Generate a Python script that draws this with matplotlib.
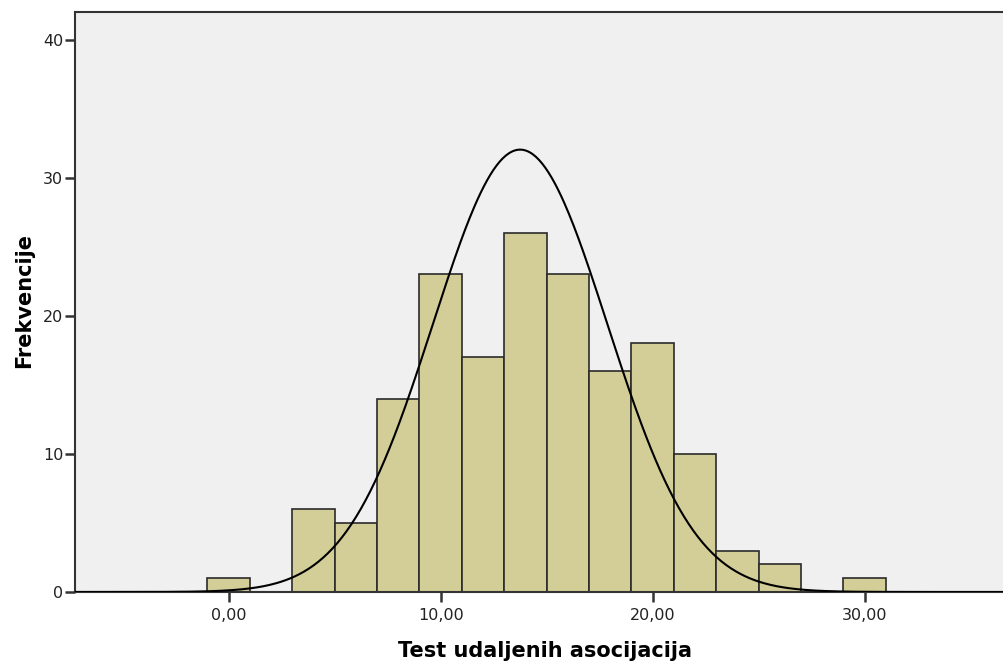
import matplotlib.pyplot as plt
import numpy as np

# bin centres (width 2) and counts
bin_centres = [0, 4, 6, 8, 10, 12, 14, 16, 18, 20, 22, 24, 26, 30]
counts = [1, 6, 5, 14, 23, 17, 26, 23, 16, 18, 10, 3, 2, 1]
bin_width = 2.0

# fitted normal curve
mean = 13.75
std = 4.11
n_total = sum(counts)

x_ticks = [0, 10, 20, 30]
x_tick_labels = ['0,00', '10,00', '20,00', '30,00']
y_ticks = [0, 10, 20, 30, 40]

plt.rcParams['font.family'] = ['DejaVu Sans']

fig = plt.figure(figsize=(10.04, 6.65), dpi=100)
ax = fig.add_axes([0.0747, 0.1098, 0.93, 0.8722])
ax.set_facecolor('#f0f0f0')

ax.bar(bin_centres, counts, width=bin_width, color='#d3ce97',
       edgecolor='#2b2b2b', linewidth=1.2, zorder=2)

xs = np.linspace(-7.5, 37, 600)
ys = n_total * bin_width / (std * np.sqrt(2 * np.pi)) * np.exp(-0.5 * ((xs - mean) / std) ** 2)
ax.plot(xs, ys, color='black', linewidth=1.5, zorder=3)

ax.set_xlim(-7.25, 36.8)
ax.set_ylim(0, 42)
ax.set_xticks(x_ticks)
ax.set_xticklabels(x_tick_labels)
ax.set_yticks(y_ticks)

for side in ['left', 'bottom', 'top', 'right']:
    ax.spines[side].set_color('#333333')
    ax.spines[side].set_linewidth(1.5)

ax.tick_params(axis='both', direction='out', length=7.5, width=1.8,
               color='#333333', labelsize=11.5, labelcolor='#222222')
ax.tick_params(axis='x', pad=4)
ax.tick_params(axis='y', pad=1)

fig.text(545 / 1004, 1 - 651 / 665, 'Test udaljenih asocijacija', fontsize=15,
         fontweight='bold', ha='center', va='center')
fig.text(24 / 1004, 1 - 300 / 665, 'Frekvencije', fontsize=15,
         fontweight='bold', ha='center', va='center', rotation=90)

plt.savefig('out.png', dpi=100)
